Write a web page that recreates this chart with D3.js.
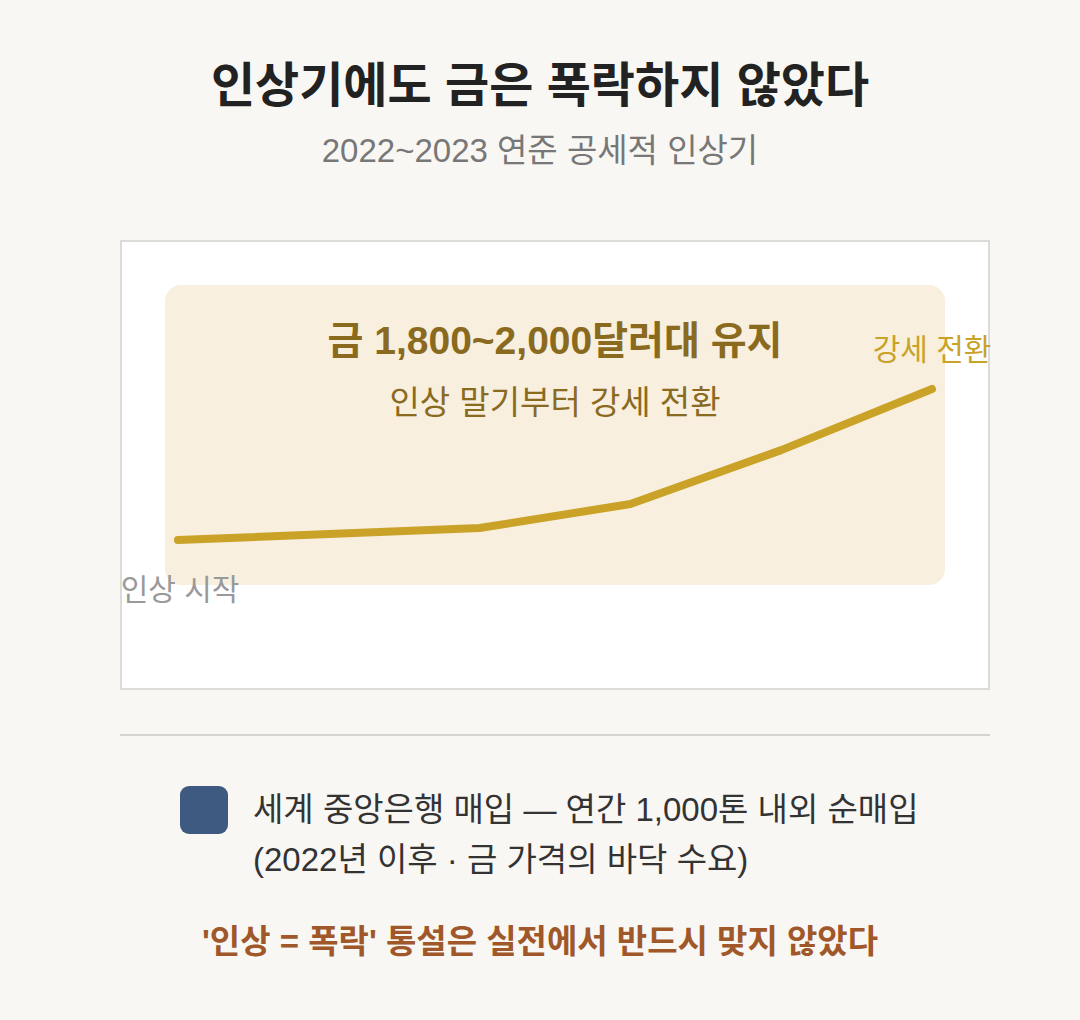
<!DOCTYPE html>
<html>
<head>
<meta charset="utf-8">
<script src="https://cdn.jsdelivr.net/npm/d3@7"></script>
<style>
  body { margin: 0; background: #f9f7f3; }
  svg { display: block; font-family: "Liberation Sans", "Noto Sans CJK KR", sans-serif; }
</style>
</head>
<body>
<div id="wrapper"></div>
<script>
// gold price path through the hiking cycle (step index, approx USD)
const steps = [0, 2, 3, 4, 5]
const prices = [1800, 1830, 1890, 2025, 2178]
const startLabel = "인상 시작"
const endLabel = "강세 전환"
const legendLines = ["세계 중앙은행 매입 — 연간 1,000톤 내외 순매입", "(2022년 이후 · 금 가격의 바닥 수요)"]

function drawChart() {
  const dims = { width: 1080, height: 1020 }

  const svg = d3.select("#wrapper")
    .append("svg")
      .attr("width", dims.width)
      .attr("height", dims.height)

  svg.append("rect")
      .attr("width", dims.width)
      .attr("height", dims.height)
      .attr("fill", "#f9f7f3")

  // titles
  svg.append("text")
      .attr("x", 540).attr("y", 102)
      .attr("text-anchor", "middle")
      .attr("font-size", 48).attr("font-weight", 700)
      .attr("fill", "#222")
      .text("인상기에도 금은 폭락하지 않았다")

  svg.append("text")
      .attr("x", 540).attr("y", 162)
      .attr("text-anchor", "middle")
      .attr("font-size", 33)
      .attr("fill", "#777")
      .text("2022~2023 연준 공세적 인상기")

  // chart panel
  svg.append("rect")
      .attr("x", 121).attr("y", 241)
      .attr("width", 868).attr("height", 448)
      .attr("fill", "#fff")
      .attr("stroke", "#dddbd7")
      .attr("stroke-width", 2)

  svg.append("rect")
      .attr("x", 165).attr("y", 285)
      .attr("width", 780).attr("height", 300)
      .attr("rx", 16)
      .attr("fill", "#f8efde")

  svg.append("text")
      .attr("x", 555).attr("y", 354)
      .attr("text-anchor", "middle")
      .attr("font-size", 39).attr("font-weight", 700)
      .attr("fill", "#8a6a1e")
      .text("금 1,800~2,000달러대 유지")

  svg.append("text")
      .attr("x", 555).attr("y", 414)
      .attr("text-anchor", "middle")
      .attr("font-size", 33)
      .attr("fill", "#8a6a1e")
      .text("인상 말기부터 강세 전환")

  // scales
  const xScale = d3.scaleLinear()
    .domain([0, 5])
    .range([178, 932])

  const yScale = d3.scaleLinear()
    .domain([1800, 2178])
    .range([540, 389])

  const lineGenerator = d3.line()
    .x((d, i) => xScale(steps[i]))
    .y(d => yScale(d))

  svg.append("path")
      .attr("d", lineGenerator(prices))
      .attr("fill", "none")
      .attr("stroke", "#c9a227")
      .attr("stroke-width", 8)
      .attr("stroke-linecap", "round")
      .attr("stroke-linejoin", "round")

  svg.append("text")
      .attr("x", xScale(steps[steps.length - 1]))
      .attr("y", yScale(prices[prices.length - 1]) - 29)
      .attr("text-anchor", "middle")
      .attr("font-size", 30)
      .attr("fill", "#c9a227")
      .text(endLabel)

  svg.append("text")
      .attr("x", xScale(steps[0]) + 2)
      .attr("y", yScale(prices[0]) + 60)
      .attr("text-anchor", "middle")
      .attr("font-size", 30)
      .attr("fill", "#999")
      .text(startLabel)

  // divider
  svg.append("line")
      .attr("x1", 120).attr("x2", 990)
      .attr("y1", 735).attr("y2", 735)
      .attr("stroke", "#d5d3cf")
      .attr("stroke-width", 2)

  // legend
  svg.append("rect")
      .attr("x", 180).attr("y", 786)
      .attr("width", 48).attr("height", 48)
      .attr("rx", 9)
      .attr("fill", "#3f5a80")

  svg.selectAll(".legend-line")
    .data(legendLines)
    .join("text")
      .attr("class", "legend-line")
      .attr("x", 253)
      .attr("y", (d, i) => 821 + i * 50)
      .attr("font-size", 33)
      .attr("fill", "#333")
      .text(d => d)

  svg.append("text")
      .attr("x", 540).attr("y", 953)
      .attr("text-anchor", "middle")
      .attr("font-size", 33).attr("font-weight", 700)
      .attr("fill", "#a0582a")
      .text("'인상 = 폭락' 통설은 실전에서 반드시 맞지 않았다")
}

drawChart()
</script>
</body>
</html>
